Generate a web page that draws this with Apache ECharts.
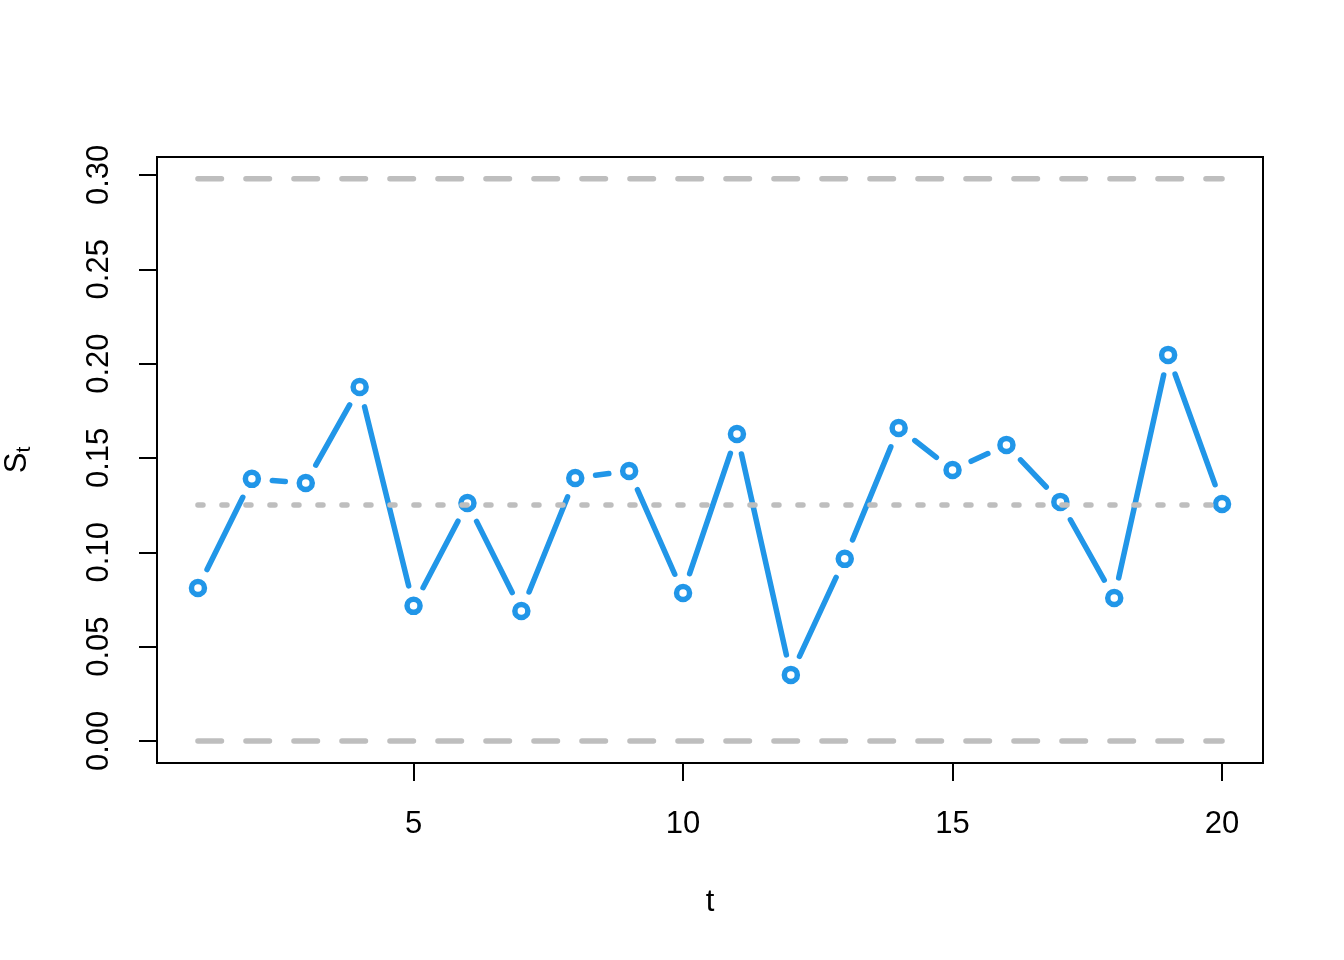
<!DOCTYPE html>
<html>
<head>
<meta charset="utf-8">
<script src="https://cdn.jsdelivr.net/npm/echarts@6/dist/echarts.min.js"></script>
<style>html,body{margin:0;padding:0;background:#fff}#c{width:1344px;height:960px}</style>
</head>
<body>
<div id="c"></div>
<script>
// ---- data ----
var tVals = [1,2,3,4,5,6,7,8,9,10,11,12,13,14,15,16,17,18,19,20];
var sVals = [0.0811,0.1389,0.1367,0.1876,0.0716,0.1261,0.0689,0.1394,0.1431,0.0784,
             0.1627,0.0350,0.0965,0.1659,0.1436,0.1569,0.1267,0.0758,0.2046,0.1256];
var lowerLimit = 0.0;
var upperLimit = 0.298;
var meanLevel = 0.1251;
var xTicks = [5,10,15,20];
var yTicks = [0,0.05,0.10,0.15,0.20,0.25,0.30];

var FONT = 'Liberation Sans, Arial, sans-serif';
var BLUE = '#2196E8';
var GRAY = '#BEBEBE';

var points = tVals.map(function(t,i){ return [t, sVals[i]]; });

var chart = echarts.init(document.getElementById('c'), null, {renderer:'canvas'});
var GAP = 20.5;

chart.setOption({
  animation: false,
  backgroundColor: '#fff',
  grid: {left:157, right:81, top:157, bottom:197, show:true, borderColor:'#000', borderWidth:2,
         backgroundColor:'transparent', containLabel:false, outerBoundsMode:'none'},
  xAxis: {
    type:'value', min:0.24, max:20.76,
    name:'t', nameLocation:'middle', nameGap:124,
    nameTextStyle:{fontFamily:FONT, fontSize:31, color:'#000'},
    axisLine:{show:false, onZero:false}, splitLine:{show:false},
    axisTick:{show:true, customValues:xTicks, length:18, lineStyle:{color:'#000', width:2}},
    axisLabel:{show:true, customValues:xTicks, margin:46, fontFamily:FONT, fontSize:31, color:'#000'}
  },
  yAxis: {
    type:'value', min:-0.0117, max:0.3095,
    name:'{s|S}{sub|t}', nameLocation:'middle', nameGap:120, nameRotate:90,
    nameTextStyle:{fontFamily:FONT, color:'#000',
      rich:{s:{fontFamily:FONT, fontSize:31, color:'#000', lineHeight:40, verticalAlign:'middle'},
            sub:{fontFamily:FONT, fontSize:21, color:'#000', lineHeight:40, padding:[14,0,0,0]}}},
    axisLine:{show:false, onZero:false}, splitLine:{show:false},
    axisTick:{show:true, customValues:yTicks, length:18, lineStyle:{color:'#000', width:2}},
    axisLabel:{show:true, customValues:yTicks, rotate:90, margin:42, fontFamily:FONT, fontSize:31, color:'#000',
      formatter:function(v){ return v.toFixed(2); }}
  },
  series: [
    {
      type:'custom', z:2, silent:true,
      data: points,
      renderItem: function(params, api){
        var i = params.dataIndex;
        if (i >= points.length - 1) return null;
        var p1 = api.coord(points[i]);
        var p2 = api.coord(points[i+1]);
        var dx = p2[0]-p1[0], dy = p2[1]-p1[1];
        var len = Math.sqrt(dx*dx+dy*dy);
        if (len <= 2*GAP) return null;
        var ux = dx/len, uy = dy/len;
        return {
          type:'line',
          shape:{x1:p1[0]+ux*GAP, y1:p1[1]+uy*GAP, x2:p2[0]-ux*GAP, y2:p2[1]-uy*GAP},
          style:{stroke:BLUE, lineWidth:5.5, lineCap:'round'}
        };
      }
    },
    {
      type:'scatter', z:3, silent:true, data: points,
      symbol:'circle', symbolSize:13,
      itemStyle:{color:'rgba(255,255,255,0)', borderColor:BLUE, borderWidth:5.5, opacity:1}
    },
    {
      type:'line', z:4, silent:true, showSymbol:false,
      data:[[tVals[0], lowerLimit],[tVals[tVals.length-1], lowerLimit]],
      lineStyle:{color:GRAY, width:5.5, type:[23.5,24.5], cap:'round'}
    },
    {
      type:'line', z:4, silent:true, showSymbol:false,
      data:[[tVals[0], upperLimit],[tVals[tVals.length-1], upperLimit]],
      lineStyle:{color:GRAY, width:5.5, type:[23.5,24.5], cap:'round'}
    },
    {
      type:'line', z:4, silent:true, showSymbol:false,
      data:[[tVals[0], meanLevel],[tVals[tVals.length-1], meanLevel]],
      lineStyle:{color:GRAY, width:5.5, type:[5,19], cap:'round'}
    }
  ]
});
</script>
</body>
</html>
